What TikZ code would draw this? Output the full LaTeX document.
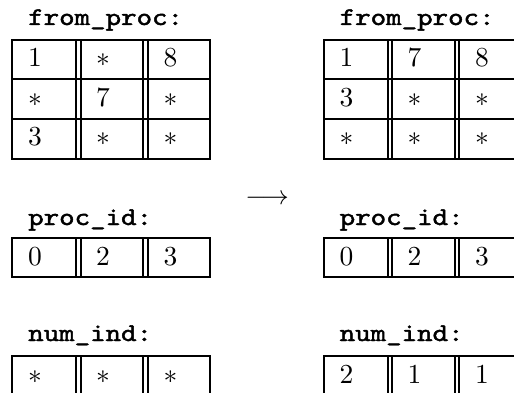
\documentclass[tikz,border=0pt]{standalone}
\usepackage{fontspec}
\newfontfamily\tagfont{Latin Modern Mono}[FakeBold=1.6]

\newcommand{\tagtext}[1]{\scalebox{2.95}[2.55]{\tagfont #1}}
\newcommand{\celltext}[1]{\scalebox{2.75}{$#1$}}

\begin{document}
\begin{tikzpicture}[x=1pt,y=-1pt,
    grid/.style={line width=2pt},
    cell/.style={anchor=base west, inner sep=0pt, font=\fontsize{10}{12}\selectfont},
    tag/.style={anchor=base west, inner sep=0pt, font=\fontsize{10}{12}\selectfont}]
    \useasboundingbox (0,0) rectangle (514,393);
    \clip (0,0) rectangle (514,393);

    % the grids, left and right copy
    \foreach \dx in {0,311.5}{
        \foreach \top/\bot in {40/159, 238/277, 356/396}{
            \draw[grid] (12+\dx,\top) rectangle (209.5+\dx,\bot);
            \foreach \x in {76,80.5,143,147.5}
                \draw[grid] (\x+\dx,\top) -- (\x+\dx,\bot);
        }
        \draw[grid] (12+\dx,79.5) -- (209.5+\dx,79.5);
        \draw[grid] (12+\dx,119) -- (209.5+\dx,119);
    }

    % labels
    \node[tag] (fromL) at (28,25) {\tagtext{from\_proc:}};
    \node[tag] (procL) at (28,225) {\tagtext{proc\_id:}};
    \node[tag] (numL) at (28,341) {\tagtext{num\_ind:}};
    \node[tag] (fromR) at (339.5,25) {\tagtext{from\_proc:}};
    \node[tag] (procR) at (339.5,225) {\tagtext{proc\_id:}};
    \node[tag] (numR) at (339.5,341) {\tagtext{num\_ind:}};

    % from_proc before
    \foreach \r/\y/\a/\b/\c in {1/67/1/*/8, 2/106.5/*/7/*, 3/146/3/*/*}{
        \node[cell] (fl\r a) at (28,\y) {\celltext{\a}};
        \node[cell] (fl\r b) at (96,\y) {\celltext{\b}};
        \node[cell] (fl\r c) at (163.5,\y) {\celltext{\c}};
    }
    % from_proc after
    \foreach \r/\y/\a/\b/\c in {1/67/1/7/8, 2/106.5/3/*/*, 3/146/*/*/*}{
        \node[cell] (fr\r a) at (339.5,\y) {\celltext{\a}};
        \node[cell] (fr\r b) at (407.5,\y) {\celltext{\b}};
        \node[cell] (fr\r c) at (475,\y) {\celltext{\c}};
    }
    % proc_id and num_ind
    \foreach \s/\dx/\y/\a/\b/\c in {pl/0/265.5/0/2/3, pr/311.5/265.5/0/2/3,
                                    nl/0/383/*/*/*, nr/311.5/383/2/1/1}{
        \node[cell] (\s a) at (28+\dx,\y) {\celltext{\a}};
        \node[cell] (\s b) at (96+\dx,\y) {\celltext{\b}};
        \node[cell] (\s c) at (163.5+\dx,\y) {\celltext{\c}};
    }

    \node[cell, anchor=base] (arrow) at (267,204.5) {\scalebox{2.7}{$\longrightarrow$}};
\end{tikzpicture}
\end{document}
